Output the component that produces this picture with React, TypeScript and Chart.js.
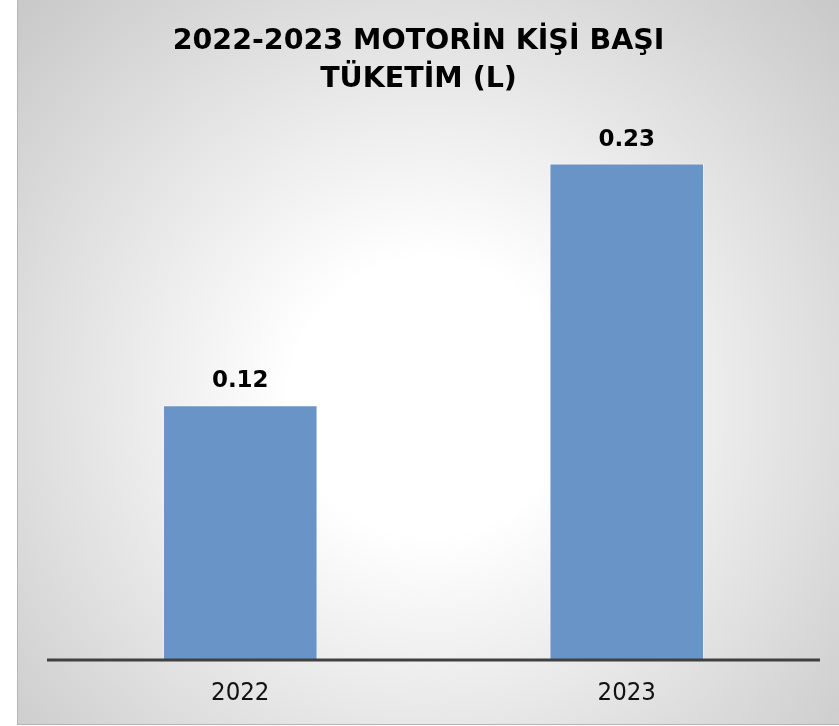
import React, { useEffect, useRef } from "react";
import { Chart, registerables } from "chart.js";

Chart.register(...registerables);

const TITLE_LINES = ["2022-2023 MOTORİN KİŞİ BAŞI", "TÜKETİM (L)"];
const CATEGORIES = ["2022", "2023"];
const VALUES = [0.119, 0.232];
const VALUE_LABELS = ["0.12", "0.23"];

const BOLD_FONT = "'DejaVu Sans', Tahoma, sans-serif";
const TICK_FONT = "'DejaVu Sans Condensed', 'DejaVu Sans', Tahoma, sans-serif";

const titlePlugin = {
  id: "customTitle",
  afterDraw(chart: any) {
    const { ctx } = chart;
    ctx.save();
    ctx.fillStyle = "#000000";
    ctx.font = `bold 28.5px ${BOLD_FONT}`;
    ctx.textAlign = "center";
    ctx.textBaseline = "alphabetic";
    const cx = 401.5;
    ctx.fillText(TITLE_LINES[0], cx, 48.5);
    ctx.fillText(TITLE_LINES[1], cx, 86.5);
    ctx.restore();
  },
};

const axisLinePlugin = {
  id: "axisLine",
  afterDatasetsDraw(chart: any) {
    const { ctx, chartArea } = chart;
    ctx.save();
    ctx.strokeStyle = "#404040";
    ctx.lineWidth = 3;
    ctx.beginPath();
    ctx.moveTo(chartArea.left, chartArea.bottom);
    ctx.lineTo(chartArea.right, chartArea.bottom);
    ctx.stroke();
    ctx.restore();
  },
};

const valueLabelPlugin = {
  id: "valueLabels",
  afterDatasetsDraw(chart: any) {
    const { ctx } = chart;
    const meta = chart.getDatasetMeta(0);
    ctx.save();
    ctx.fillStyle = "#000000";
    ctx.font = `bold 23px ${BOLD_FONT}`;
    ctx.textAlign = "center";
    ctx.textBaseline = "alphabetic";
    meta.data.forEach((bar: any, i: number) => {
      ctx.fillText(VALUE_LABELS[i], bar.x, bar.y - 18);
    });
    ctx.restore();
  },
};

export default function App() {
  const ref = useRef<HTMLCanvasElement>(null);

  useEffect(() => {
    if (!ref.current) return;
    const chart = new Chart(ref.current, {
      type: "bar",
      data: {
        labels: CATEGORIES,
        datasets: [
          {
            data: VALUES,
            backgroundColor: "#6994c7",
            borderColor: "rgba(255,255,255,0.55)",
            borderWidth: 1,
            barPercentage: 0.4,
            categoryPercentage: 1,
          },
        ],
      },
      options: {
        animation: false,
        responsive: false,
        maintainAspectRatio: false,
        layout: { padding: { left: 30, right: 19, top: 125, bottom: 0 } },
        plugins: {
          legend: { display: false },
          tooltip: { enabled: false },
          title: { display: false },
        },
        scales: {
          x: {
            grid: { display: false, drawTicks: false },
            border: { display: false },
            ticks: {
              color: "#111111",
              font: { family: TICK_FONT, size: 25.5 },
              padding: 18,
            },
            afterFit(scale: any) {
              scale.height = 65;
            },
          },
          y: {
            display: false,
            min: 0,
            max: 0.25,
          },
        },
      },
      plugins: [axisLinePlugin, valueLabelPlugin, titlePlugin],
    });
    return () => chart.destroy();
  }, []);

  return (
    <div
      style={{
        position: "fixed",
        left: 17,
        top: 0,
        width: 822,
        height: 724,
        borderLeft: "1px solid #b4b4b4",
        borderBottom: "1px solid #b4b4b4",
        background:
          "radial-gradient(circle farthest-corner at 50% 55%, #ffffff 0%, #ffffff 24%, #c8c8c8 100%)",
        overflow: "hidden",
      }}
    >
      <canvas ref={ref} width={822} height={725} style={{ display: "block", marginLeft: -1 }} />
    </div>
  );
}
